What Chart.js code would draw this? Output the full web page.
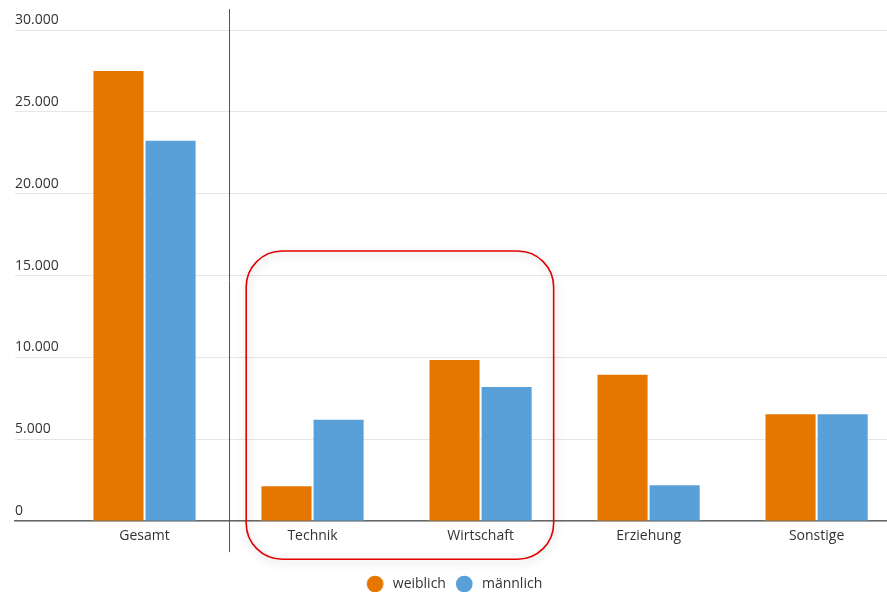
<!DOCTYPE html>
<html>
<head>
<meta charset="utf-8">
<script src="https://cdn.jsdelivr.net/npm/chart.js@4/dist/chart.umd.min.js"></script>
<style>
  html, body { margin: 0; padding: 0; background: #fff; overflow: hidden; }
  #wrap { width: 887px; height: 592px; position: relative; }
</style>
</head>
<body>
<div id="wrap"><canvas id="genderChart" width="887" height="592"></canvas></div>
<script>
const categories = ["Gesamt", "Technik", "Wirtschaft", "Erziehung", "Sonstige"];
const weiblich = [27550, 2200, 9900, 9000, 6600];
const maennlich = [23300, 6250, 8250, 2250, 6600];
const yTicks = [0, 5000, 10000, 15000, 20000, 25000, 30000];
const colors = ["#e57700", "#5aa0d8"];

const fmt = v => String(v).replace(/\B(?=(\d{3})+(?!\d))/g, ".");
const FONT = { family: "'Open Sans'", size: 14 };

// legend dot, drawn a bit left of the box centre so the text sits further away
function legendDot(color) {
    const c = document.createElement('canvas');
    c.width = 26;
    c.height = 18;
    const g = c.getContext('2d');
    g.fillStyle = color;
    g.beginPath();
    g.arc(9.3, 9, 8.35, 0, Math.PI * 2);
    g.fill();
    return c;
}
const dots = colors.map(legendDot);

// separator after "Gesamt" and red highlight box round Technik + Wirtschaft
const overlay = {
    id: 'overlay',
    afterLayout(chart) {
        // legend row width counts a trailing padding, nudge it back to the middle
        chart.legend.left += 6;
        chart.legend.right += 6;
    },
    afterDatasetsDraw(chart) {
        const { ctx, chartArea, scales: { x, y } } = chart;
        ctx.save();
        const sx = Math.round(x.getPixelForValue(0.5)) + 0.5;
        ctx.strokeStyle = '#555';
        ctx.lineWidth = 1;
        ctx.beginPath();
        ctx.moveTo(sx, chartArea.top - 21);
        ctx.lineTo(sx, chartArea.bottom + 31);
        ctx.stroke();

        const cx = x.getPixelForValue(1.52);
        const half = (x.getPixelForValue(1) - x.getPixelForValue(0)) * 0.915;
        const left = cx - half, right = cx + half;
        const top = y.getPixelForValue(16500), bottom = chartArea.bottom + 38;
        ctx.shadowColor = 'rgba(0,0,0,0.25)';
        ctx.shadowBlur = 8;
        ctx.shadowOffsetX = 1;
        ctx.shadowOffsetY = 3;
        ctx.strokeStyle = '#e30000';
        ctx.lineWidth = 1.6;
        ctx.beginPath();
        ctx.roundRect(left, top, right - left, bottom - top, 36);
        ctx.stroke();
        ctx.restore();
    }
};

const defaultLabels = Chart.defaults.plugins.legend.labels.generateLabels;

const ctx = document.getElementById("genderChart").getContext("2d");
new Chart(ctx, {
    type: "bar",
    data: {
        datasets: [{
            label: "weiblich",
            data: weiblich.map((v, i) => ({ x: i, y: v })),
            backgroundColor: colors[0],
            borderColor: "rgba(255,255,255,0.45)",
            borderWidth: 1,
            categoryPercentage: 0.62,
            barPercentage: 1
        }, {
            label: "männlich",
            data: maennlich.map((v, i) => ({ x: i, y: v })),
            backgroundColor: colors[1],
            borderColor: "rgba(255,255,255,0.45)",
            borderWidth: 1,
            categoryPercentage: 0.62,
            barPercentage: 1
        }]
    },
    options: {
        responsive: false,
        animation: false,
        devicePixelRatio: 1,
        layout: { padding: { left: 15, right: 0, top: 30, bottom: -9 } },
        plugins: {
            tooltip: { enabled: false },
            legend: {
                position: 'bottom',
                labels: {
                    usePointStyle: true,
                    boxWidth: 14,
                    boxHeight: 14,
                    padding: 15,
                    color: '#333',
                    font: FONT,
                    generateLabels: chart => defaultLabels(chart).map((item, i) => ({ ...item, pointStyle: dots[i] }))
                }
            }
        },
        scales: {
            x: {
                type: 'linear',
                min: -0.771,
                max: 4.419,
                offset: false,
                grid: { display: false, drawTicks: false },
                border: { display: true, color: '#666', width: 1.5 },
                afterBuildTicks: axis => { axis.ticks = categories.map((c, i) => ({ value: i })); },
                afterFit: axis => { axis.height += 12; },
                ticks: {
                    autoSkip: false,
                    maxRotation: 0,
                    padding: 6,
                    color: '#333',
                    font: FONT,
                    callback: v => categories[v] ?? ''
                }
            },
            y: {
                min: 0,
                max: 30000,
                afterBuildTicks: axis => { axis.ticks = yTicks.map(v => ({ value: v })); },
                grid: { color: '#e6e6e6', lineWidth: 1, drawTicks: false },
                border: { display: false },
                ticks: {
                    mirror: true,
                    padding: 0,
                    labelOffset: -10,
                    color: '#333',
                    font: FONT,
                    callback: v => fmt(v)
                }
            }
        }
    },
    plugins: [overlay]
});
</script>
</body>
</html>
